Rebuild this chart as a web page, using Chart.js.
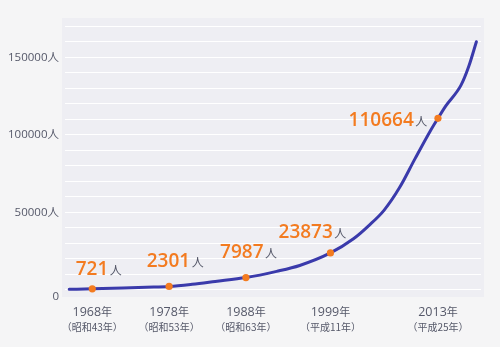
<!DOCTYPE html>
<html>
<head>
<meta charset="utf-8">
<script src="https://cdn.jsdelivr.net/npm/chart.js@4/dist/chart.umd.min.js"></script>
<style>
  html, body { margin: 0; padding: 0; background: #f5f5f6; }
  canvas { display: block; }
</style>
</head>
<body>
<canvas id="chart" width="500" height="347"></canvas>
<script>
// Yearly totals along the curve (persons)
const years = [1965, 1968, 1972, 1975, 1978, 1981, 1984, 1988, 1992, 1995, 1999,
               2002, 2004, 2006, 2008, 2010, 2012, 2013, 2014, 2016, 2017, 2018];
const persons = [400, 721, 1300, 1800, 2301, 3700, 5500, 7987, 12000, 15800, 23873,
                 33000, 41500, 51500, 66000, 84500, 102500, 110664, 118500, 132000, 144000, 160000];

// Highlighted milestones
const markYears = [1968, 1978, 1988, 1999, 2013];
const markPersons = [721, 2301, 7987, 23873, 110664];
const eraLabels = ['（昭和43年）', '（昭和53年）', '（昭和63年）', '（平成11年）', '（平成25年）'];

// Y axis ticks: a grid line every 10000, a label every 50000
const yGridStep = 10000;
const yLabelStep = 50000;

const FONT = "'Open Sans', 'Noto Sans CJK JP', sans-serif";
const CJK = "'Noto Sans CJK JP', 'Open Sans', sans-serif";
const ORANGE = '#f37b20';
const TEXT = '#555869';

Chart.defaults.font.family = FONT;

// Lavender plot panel, slightly wider than the grid lines
const panel = {
  id: 'panel',
  beforeDraw(chart) {
    const { ctx, chartArea: a } = chart;
    ctx.save();
    ctx.fillStyle = '#eeeef3';
    ctx.fillRect(a.left - 3, a.top, a.right - a.left + 6, a.bottom - a.top);
    ctx.restore();
  }
};

// Two-line year captions under the milestones
const yearCaptions = {
  id: 'yearCaptions',
  afterDraw(chart) {
    const { ctx } = chart;
    const xs = chart.scales.x;
    ctx.save();
    ctx.fillStyle = TEXT;
    ctx.textBaseline = 'alphabetic';
    markYears.forEach((yr, i) => {
      const x = xs.getPixelForValue(yr);
      const num = String(yr);
      ctx.font = '12.5px ' + FONT;
      const wNum = ctx.measureText(num).width;
      ctx.font = '11px ' + CJK;
      const wNen = ctx.measureText('年').width;
      const left = x - (wNum + wNen) / 2;
      ctx.textAlign = 'left';
      ctx.font = '12.5px ' + FONT;
      ctx.fillText(num, left, 316);
      ctx.font = '11px ' + CJK;
      ctx.fillText('年', left + wNum, 316);
      ctx.font = '10px ' + CJK;
      ctx.textAlign = 'center';
      ctx.fillText(eraLabels[i], x, 331);
    });
    ctx.restore();
  }
};

// Value callouts next to each milestone dot
const calloutOffsets = [[-16.6, -13.9], [-22.4, -19.7], [-25.8, -19.3], [-51.9, -14.7], [-89.4, 7.5]];
const callouts = {
  id: 'callouts',
  afterDatasetsDraw(chart) {
    const { ctx } = chart;
    const meta = chart.getDatasetMeta(1);
    ctx.save();
    ctx.textAlign = 'left';
    ctx.textBaseline = 'alphabetic';
    meta.data.forEach((pt, i) => {
      const [dx, dy] = calloutOffsets[i];
      const x = pt.x + dx, y = pt.y + dy;
      const txt = String(markPersons[i]);
      ctx.font = '600 19px ' + FONT;
      ctx.fillStyle = ORANGE;
      ctx.fillText(txt, x, y);
      const w = ctx.measureText(txt).width;
      ctx.font = '12px ' + CJK;
      ctx.fillStyle = TEXT;
      ctx.fillText('人', x + w + 1.5, y);
    });
    ctx.restore();
  }
};

new Chart(document.getElementById('chart'), {
  type: 'line',
  data: {
    datasets: [
      {
        data: years.map((yr, i) => ({ x: yr, y: persons[i] })),
        borderColor: '#3a3aab',
        borderWidth: 3,
        borderCapStyle: 'round',
        pointRadius: 0,
        cubicInterpolationMode: 'monotone',
        fill: false,
        order: 2
      },
      {
        data: markYears.map((yr, i) => ({ x: yr, y: markPersons[i] })),
        showLine: false,
        pointRadius: 3.6,
        pointBackgroundColor: ORANGE,
        pointBorderWidth: 0,
        order: 1
      }
    ]
  },
  options: {
    responsive: false,
    animation: false,
    devicePixelRatio: 1,
    layout: { padding: { top: 18, right: 19, left: 0, bottom: 0 } },
    plugins: { legend: { display: false }, tooltip: { enabled: false } },
    scales: {
      x: {
        type: 'linear',
        min: 1964.45,
        max: 2018.6,
        grid: { display: false },
        border: { display: false },
        ticks: { display: false },
        afterFit(scale) { scale.height = 50; }
      },
      y: {
        min: -4516,
        max: 175290,
        grid: { color: '#ffffff', lineWidth: 1, drawTicks: false },
        border: { display: false },
        afterFit(scale) { scale.width = 65; },
        afterBuildTicks(scale) {
          const ticks = [];
          for (let v = 0; v <= scale.max; v += yGridStep) ticks.push({ value: v });
          scale.ticks = ticks;
        },
        ticks: {
          autoSkip: false,
          padding: 6,
          color: TEXT,
          font: { size: 11.5 },
          callback(v) {
            if (v % yLabelStep !== 0) return '';
            return v === 0 ? ['', '0'] : v + '人';
          }
        }
      }
    }
  },
  plugins: [panel, yearCaptions, callouts]
});
</script>
</body>
</html>
